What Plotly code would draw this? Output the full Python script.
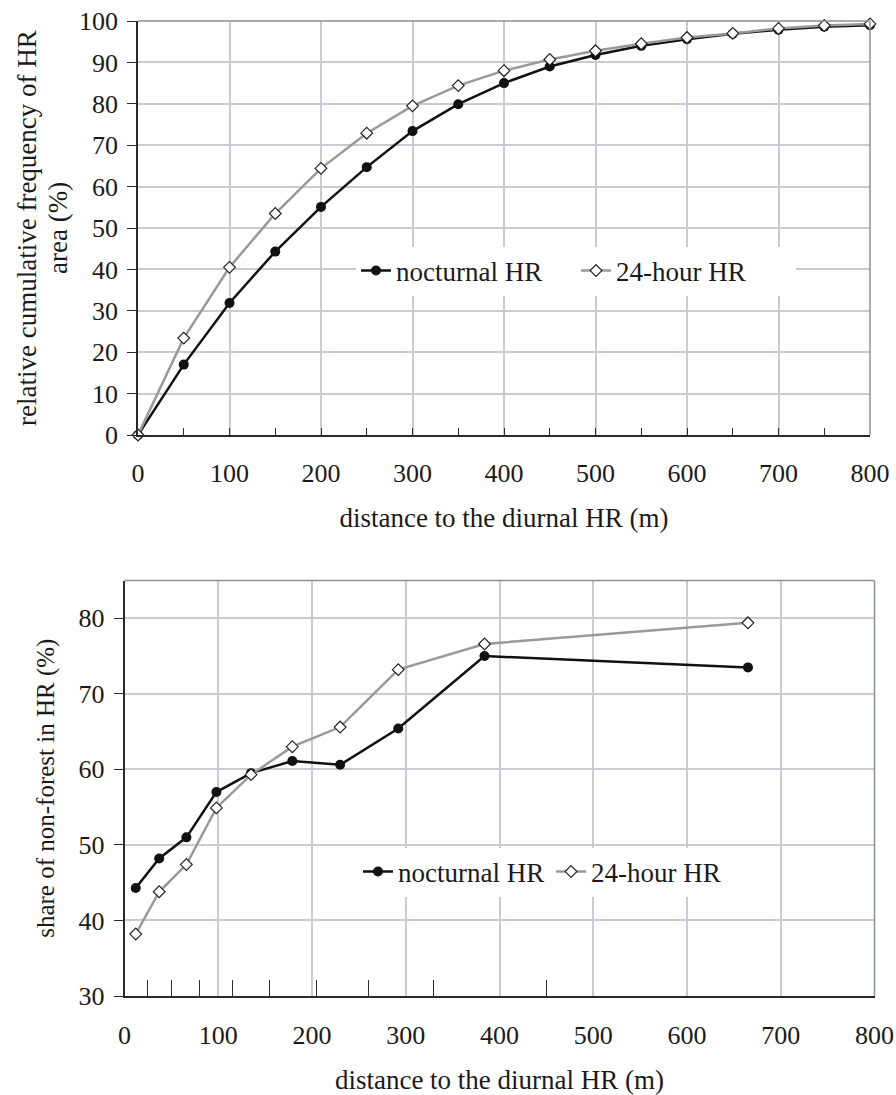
import plotly.graph_objects as go

# ---- top chart data ----
dist_top = [0, 50, 100, 150, 200, 250, 300, 350, 400, 450, 500, 550, 600, 650, 700, 750, 800]
noct_cum = [0, 17.0, 31.9, 44.3, 55.1, 64.7, 73.4, 79.9, 85.0, 89.0, 91.8, 94.0, 95.6, 96.9, 97.9, 98.6, 99.0]
full_cum = [0, 23.4, 40.5, 53.5, 64.4, 72.9, 79.5, 84.4, 88.0, 90.7, 92.8, 94.5, 96.0, 97.0, 98.2, 98.9, 99.3]

# ---- bottom chart data ----
dist_bot = [12, 37, 66, 98, 135, 179, 230, 292, 384, 665]
noct_share = [44.3, 48.2, 51.0, 57.0, 59.5, 61.1, 60.6, 65.4, 75.0, 73.5]
full_share = [38.2, 43.8, 47.4, 54.9, 59.3, 63.0, 65.6, 73.2, 76.6, 79.4]
class_bounds = [25, 50, 80, 115, 155, 205, 260, 330, 450]

x_ticks = [0, 100, 200, 300, 400, 500, 600, 700, 800]
x_tick_text = [str(v) for v in x_ticks]

top_ytitle_lines = ["relative cumulative frequency of HR", "area (%)"]

FONT = "Liberation Serif"
TXT = "#1a1a1a"
GRID = "#c9cbd3"
AXIS = "#2a2a2a"
BORDER = "#8a9099"
NOCT = "#111111"
FULL = "#999999"

W, H = 896, 1095
def px(x): return x / W
def py(y): return 1 - y / H

fig = go.Figure()

def add_pair(x, yn, yf, xa, ya, legend):
    fig.add_trace(go.Scatter(
        x=x, y=yn, mode="lines+markers", name="nocturnal HR",
        xaxis=xa, yaxis=ya, legend=legend, cliponaxis=False,
        line=dict(color=NOCT, width=2.5),
        marker=dict(symbol="circle", size=10, color=NOCT)))
    fig.add_trace(go.Scatter(
        x=x, y=yf, mode="lines+markers", name="24-hour HR",
        xaxis=xa, yaxis=ya, legend=legend, cliponaxis=False,
        line=dict(color=FULL, width=2.5),
        marker=dict(symbol="diamond", size=9, color="white",
                    line=dict(color="#222222", width=1.2))))

add_pair(dist_top, noct_cum, full_cum, "x", "y", "legend")
add_pair(dist_bot, noct_share, full_share, "x2", "y2", "legend2")

tickfont = dict(family=FONT, size=26, color=TXT)
xtitlefont = dict(family=FONT, size=27, color=TXT)

common = dict(automargin=False, zeroline=False, showline=True, linecolor=AXIS, linewidth=1.5,
              showgrid=True, gridcolor=GRID, gridwidth=1.5, tickfont=tickfont)

fig.update_layout(
    width=W, height=H,
    margin=dict(l=0, r=0, t=0, b=0, autoexpand=False),
    paper_bgcolor="white", plot_bgcolor="white",
    font=dict(family=FONT, color=TXT),
    xaxis=dict(
        domain=[px(138), px(870)], anchor="y",
        range=[0, 800], tickmode="array", tickvals=x_ticks, ticktext=x_tick_text,
        ticks="inside", ticklen=7, tickwidth=1, tickcolor=AXIS,
        minor=dict(dtick=50, tick0=0, ticks="inside", ticklen=7, tickwidth=1, tickcolor=AXIS, showgrid=False),
        ticklabelstandoff=14,
        title=dict(text="distance to the diurnal HR (m)", font=xtitlefont, standoff=21),
        **common,
    ),
    yaxis=dict(
        domain=[py(435), py(21)], anchor="x",
        range=[0, 100], dtick=10, tick0=0,
        ticks="outside", ticklen=9, tickwidth=1, tickcolor=AXIS,
        ticklabelstandoff=4,
        **common,
    ),
    xaxis2=dict(
        domain=[px(124.5), px(874.5)], anchor="y2",
        range=[0, 800], tickmode="array", tickvals=x_ticks, ticktext=x_tick_text,
        ticks="",
        minor=dict(tickmode="array", tickvals=class_bounds, ticks="inside", ticklen=16,
                   tickwidth=1, tickcolor=AXIS, showgrid=False),
        ticklabelstandoff=15,
        title=dict(text="distance to the diurnal HR (m)", font=xtitlefont, standoff=22),
        **common,
    ),
    yaxis2=dict(
        domain=[py(996), py(580.5)], anchor="x2",
        range=[30, 85], tickmode="array", tickvals=[30, 40, 50, 60, 70, 80],
        ticks="outside", ticklen=9, tickwidth=1, tickcolor=AXIS,
        ticklabelstandoff=4,
        title=dict(text="share of non-forest in HR (%)",
                   font=dict(family=FONT, size=25, color=TXT), standoff=17),
        **common,
    ),
    legend=dict(
        orientation="h", x=px(576), y=py(271), xanchor="center", yanchor="middle",
        bgcolor="white", borderwidth=0, font=dict(family=FONT, size=27, color=TXT),
        entrywidth=175, entrywidthmode="pixels", itemwidth=30,
    ),
    legend2=dict(
        orientation="h", x=px(551), y=py(872), xanchor="center", yanchor="middle",
        bgcolor="white", borderwidth=0, font=dict(family=FONT, size=27, color=TXT),
        entrywidth=148, entrywidthmode="pixels", itemwidth=30,
    ),
    showlegend=True,
)

# two-line rotated title of the top y axis (tight line spacing as in the original)
for txt, xc in zip(top_ytitle_lines, (27, 58)):
    fig.add_annotation(text=txt, xref="paper", yref="paper", x=px(xc), y=py(228),
                       xanchor="center", yanchor="middle", textangle=-90, showarrow=False,
                       font=dict(family=FONT, size=27, color=TXT))

# top and right frame lines of each plot area
for xr, yr in (("x domain", "y domain"), ("x2 domain", "y2 domain")):
    fig.add_shape(type="line", xref=xr, yref=yr, x0=0, x1=1, y0=1, y1=1,
                  line=dict(color=BORDER, width=1.5), layer="above")
    fig.add_shape(type="line", xref=xr, yref=yr, x0=1, x1=1, y0=0, y1=1,
                  line=dict(color=BORDER, width=1.5), layer="above")

fig.write_html(
    "out.html",
    config={"displayModeBar": False},
    post_script="document.body.style.margin='0px';document.body.style.overflow='hidden';",
)
